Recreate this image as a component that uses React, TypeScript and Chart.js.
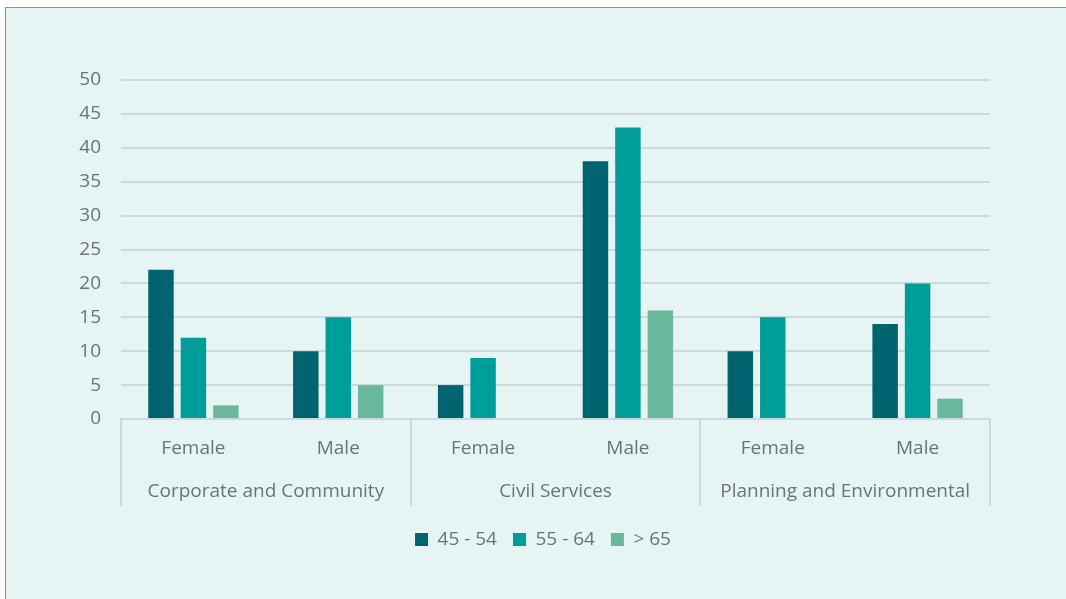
import React, { useEffect, useRef } from "react";
import { Chart, registerables } from "chart.js";

Chart.register(...registerables);

const groups = ["Corporate and Community", "Civil Services", "Planning and Environmental"];
const genders = ["Female", "Male", "Female", "Male", "Female", "Male"];
const seriesNames = ["45 - 54", "55 - 64", "> 65"];
const age45to54 = [22, 10, 5, 38, 10, 14];
const age55to64 = [12, 15, 9, 43, 15, 20];
const age65plus = [2, 5, 0, 16, 0, 3];
const yTicks = [0, 5, 10, 15, 20, 25, 30, 35, 40, 45, 50];

const colors = ["#00646e", "#009e98", "#69b89e"];
const textColor = "#6b7474";
const gridColor = "#c9dbdb";
const FONT = "'Open Sans', 'Noto Sans', sans-serif";
const FS = 19;

const dividerPlugin = {
  id: "dividers",
  afterDraw(chart: any) {
    const x = chart.scales.x;
    const x2 = chart.scales.x2;
    const y = chart.scales.y;
    const ctx = chart.ctx;
    const n = genders.length;
    const catW = (x.right - x.left) / n;
    ctx.save();
    ctx.strokeStyle = gridColor;
    ctx.lineWidth = 2;
    for (let i = 0; i <= n; i += 2) {
      const px = Math.round(x.left + i * catW);
      ctx.beginPath();
      ctx.moveTo(px, chart.chartArea.bottom);
      ctx.lineTo(px, x2.bottom - 8);
      ctx.stroke();
    }
    // y tick labels
    ctx.fillStyle = textColor;
    ctx.font = `${FS}px ${FONT}`;
    ctx.textAlign = "right";
    ctx.textBaseline = "middle";
    for (const v of yTicks) {
      ctx.fillText(String(v), chart.chartArea.left - 20, y.getPixelForValue(v));
    }
    ctx.restore();
  },
};

export default function App() {
  const ref = useRef<HTMLCanvasElement>(null);
  useEffect(() => {
    const data = [age45to54, age55to64, age65plus];
    const chart = new Chart(ref.current!, {
      type: "bar",
      data: {
        labels: genders,
        datasets: data.map((d, i) => ({
          label: seriesNames[i],
          data: d,
          backgroundColor: colors[i],
          categoryPercentage: 0.672,
          barPercentage: 0.785,
          xAxisID: "x",
        })),
      },
      options: {
        animation: false,
        responsive: false,
        maintainAspectRatio: false,
        layout: { padding: { left: 90, right: 76, top: 72, bottom: 40 } },
        plugins: {
          tooltip: { enabled: false },
          legend: {
            position: "bottom",
            labels: {
              color: textColor,
              font: { family: FONT, size: FS },
              boxWidth: 13,
              boxHeight: 13,
              padding: 16,
            },
          },
        },
        scales: {
          y: {
            min: 0,
            max: 50,
            afterFit: (s: any) => {
              s.width = 25;
            },
            afterBuildTicks: (s: any) => {
              s.ticks = yTicks.map((v) => ({ value: v }));
            },
            ticks: { display: false },
            grid: { color: gridColor, lineWidth: 2, drawTicks: false },
            border: { display: false },
          },
          x: {
            type: "category",
            position: "bottom",
            afterFit: (s: any) => {
              s.height = 50;
            },
            ticks: { color: textColor, font: { family: FONT, size: FS }, padding: 10 },
            grid: { display: false },
            border: { display: true, color: gridColor, width: 2 },
          },
          x2: {
            type: "category",
            position: "bottom",
            labels: groups,
            offset: true,
            afterFit: (s: any) => {
              s.height = 45;
            },
            ticks: { color: textColor, font: { family: FONT, size: FS }, padding: 3 },
            grid: { display: false },
            border: { display: false },
          },
        },
      } as any,
      plugins: [dividerPlugin],
    });
    return () => chart.destroy();
  }, []);

  return (
    <div
      style={{
        position: "absolute",
        left: 5,
        top: 7,
        width: 1070,
        height: 600,
        background: "#e6f4f4",
        borderTop: "1px solid #8a9494",
        borderLeft: "1px solid #8a9494",
        boxSizing: "border-box",
      }}
    >
      <canvas ref={ref} width={1060} height={591} style={{ display: "block", width: 1060, height: 591 }} />
    </div>
  );
}
